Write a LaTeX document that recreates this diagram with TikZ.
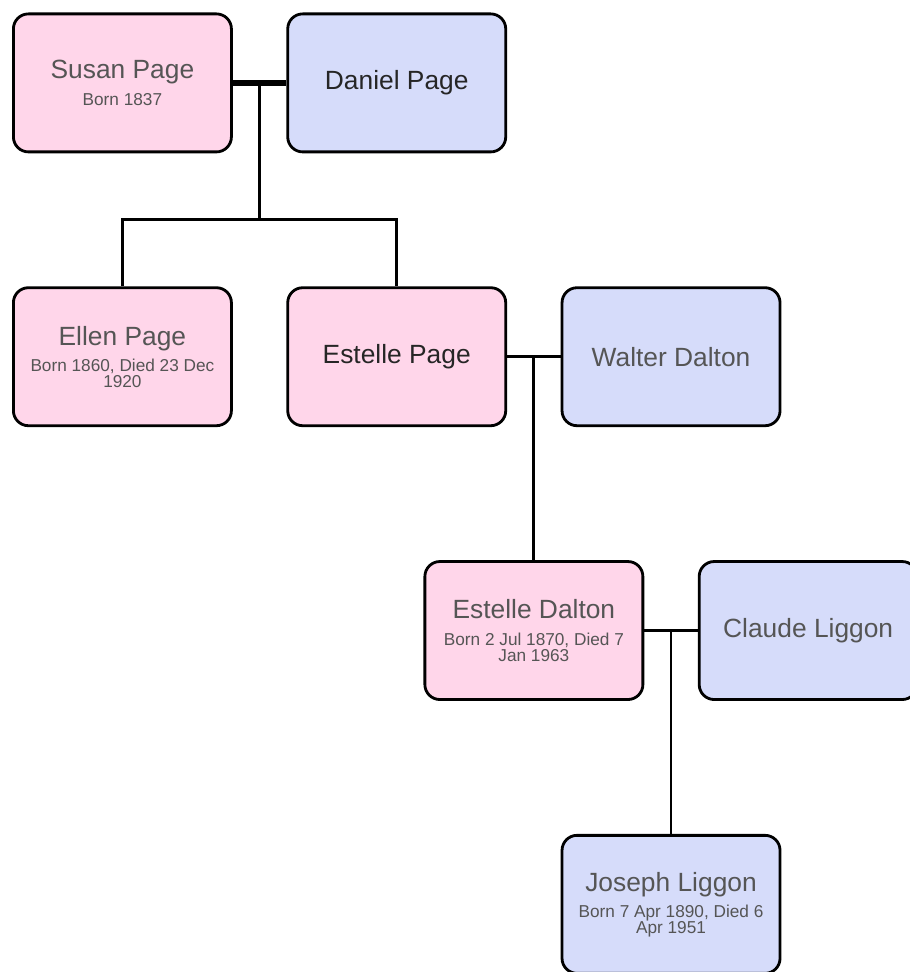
\documentclass[tikz,border=0pt]{standalone}
\usepackage{fontspec}
\setmainfont{Liberation Sans}
\usepackage{tikz}
\usetikzlibrary{positioning,calc}
\definecolor{femalefill}{HTML}{FFD6EA}
\definecolor{malefill}{HTML}{D6DCFA}
\definecolor{nametext}{HTML}{555555}
\newcommand\Pname[1]{{\fontsize{15}{17}\selectfont #1}}
\newcommand\Pdates[1]{{\fontsize{9.8}{8}\selectfont #1}}

\begin{document}
\begin{tikzpicture}[
        person/.style={
          draw, line width=1.6pt, rounded corners=0.3cm,
          minimum width=4.36cm, minimum height=2.76cm,
          inner sep=2pt, align=center, text=nametext},
        female/.style={person, fill=femalefill},
        male/.style={person, fill=malefill},
        couple/.style={line width=1.6pt},
        node distance=2.66cm and 1.07cm]

        \useasboundingbox (0,0) rectangle (18.18,-19.44);

        % Susan + Daniel
        \node (susan) [female, anchor=north west] at (0.24,-0.25) {
          \Pname{Susan Page}\\[3pt] \Pdates{Born 1837}};
        \node (daniel) [male, right=of susan, text=black!85] {\Pname{Daniel Page}};
        \coordinate (m1) at ($(susan.east)!.5!(daniel.west)$);
        \draw [line width=3pt] (susan) -- (daniel);

        % their children
        \node (ellen) [female, below=of susan] {
          \Pname{Ellen Page}\\[3pt] \Pdates{Born 1860, Died 23 Dec}\\[-3pt] \Pdates{1920}};
        \node (estelle) [female, right=of ellen, text=black!85] {\Pname{Estelle Page}};
        \node (walter) [male, right=of estelle] {\Pname{Walter Dalton}};
        \coordinate (c1) at ($(m1 |- susan.south)!.5!(m1 |- ellen.north)$);
        \draw [couple] (m1) -- (c1);
        \draw [couple] (ellen.north) |- (c1) -| (estelle.north);
        \draw [couple] (estelle) -- (walter);
        \coordinate (m2) at ($(estelle.east)!.5!(walter.west)$);

        % Estelle Dalton + Claude
        \node (estelleD) [female, below=of m2 |- estelle.south] {
          \Pname{Estelle Dalton}\\[3pt] \Pdates{Born 2 Jul 1870, Died 7}\\[-3pt] \Pdates{Jan 1963}};
        \node (claude) [male, right=of estelleD] {\Pname{Claude Liggon}};
        \draw [couple] (m2) -- (estelleD.north);
        \draw [couple] (estelleD) -- (claude);
        \coordinate (m3) at ($(estelleD.east)!.5!(claude.west)$);

        % Joseph
        \node (joseph) [male, below=of m3 |- estelleD.south] {
          \Pname{Joseph Liggon}\\[3pt] \Pdates{Born 7 Apr 1890, Died 6}\\[-3pt] \Pdates{Apr 1951}};
        \draw [couple] (m3) -- (joseph.north);

      \end{tikzpicture}
\end{document}
